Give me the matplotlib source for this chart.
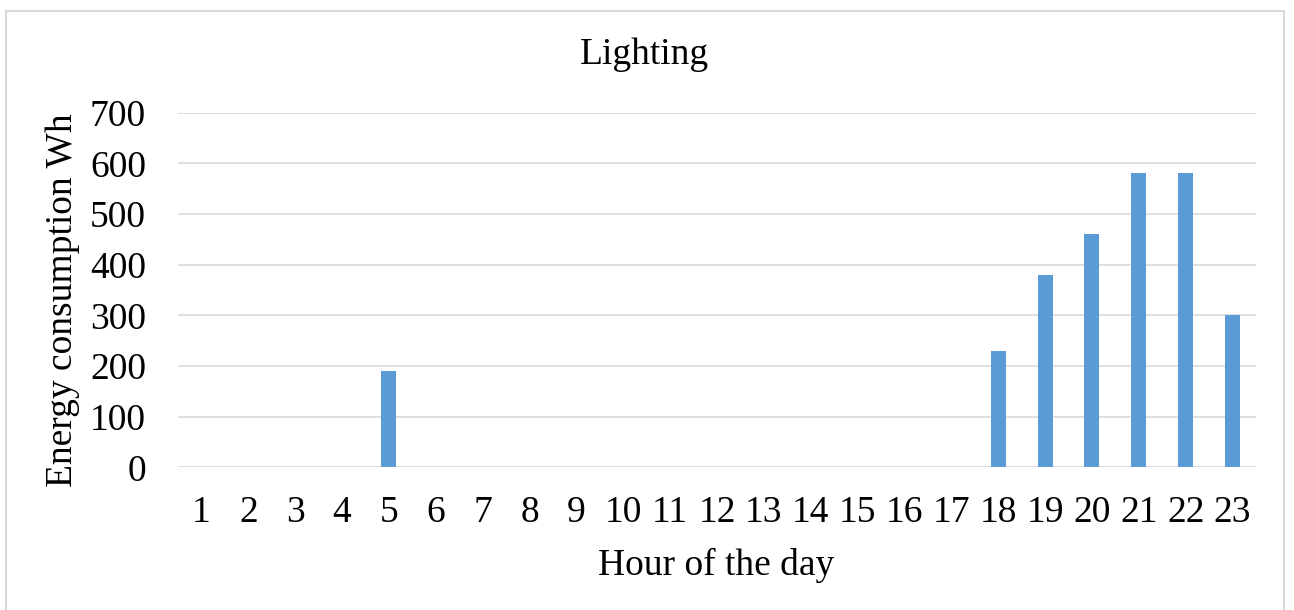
import matplotlib.pyplot as plt
import numpy as np
from matplotlib.patches import Rectangle

hours = list(range(1, 24))
energy_wh = [0, 0, 0, 0, 190, 0, 0, 0, 0, 0, 0, 0, 0, 0, 0, 0, 0, 230, 380, 460, 580, 580, 300]

plt.rcParams['font.family'] = ['Liberation Serif', 'DejaVu Serif']
fs = 27

fig = plt.figure(figsize=(12.94, 6.10), dpi=100)
ax = fig.add_axes([178 / 1294, 1 - 467.3 / 610, (1256 - 178) / 1294, (467.3 - 112.7) / 610])

# chart border
fig.patches.append(Rectangle((6 / 1294, -0.05), (1284 - 6) / 1294, 1 - 11 / 610 + 0.05,
                             transform=fig.transFigure, fill=False,
                             edgecolor='#D9D9D9', linewidth=1.5))

x = np.arange(len(hours))
ax.bar(x, energy_wh, width=0.32, color='#5B9BD5', zorder=3)

ax.set_xlim(-0.5, len(hours) - 0.5)
ax.set_ylim(0, 700)
ax.set_yticks(range(0, 701, 100))
ax.set_xticks(x)
ax.set_xticklabels([str(h) for h in hours])
ax.yaxis.grid(True, color='#D9D9D9', linewidth=1.2, zorder=0)
for s in ax.spines.values():
    s.set_visible(False)
ax.tick_params(axis='both', length=0, labelsize=fs)
ax.tick_params(axis='y', pad=23)
ax.tick_params(axis='x', pad=20)

fig.text(0.498, 1 - 55 / 610, 'Lighting', fontsize=fs, ha='center', va='center')
fig.text(716 / 1294, 1 - 565 / 610, 'Hour of the day', fontsize=fs, ha='center', va='center')
fig.text(63 / 1294, 1 - 300 / 610, 'Energy consumption Wh', fontsize=fs,
         rotation=90, ha='center', va='center')

fig.savefig('out.png', dpi=100)
